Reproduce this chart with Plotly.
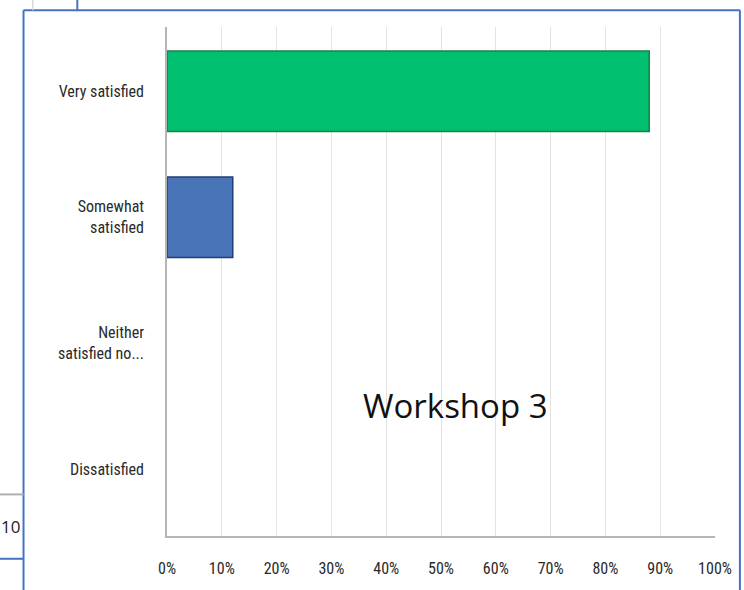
import plotly.graph_objects as go

categories = ["Very satisfied", "Somewhat<br>satisfied", "Neither<br>satisfied no...", "Dissatisfied"]
values = [0.88, 0.12, 0.0, 0.0]
bar_colors = ["#00bf6f", "#4a74b8", "#4a74b8", "#4a74b8"]
edge_colors = ["#1b7f4c", "#1f3f78", "#1f3f78", "#1f3f78"]
x_ticks = [i / 10 for i in range(11)]
x_labels = [f"{i*10}%" for i in range(11)]

W, H = 744, 590
L, R, T, B = 166.7, 716.7, 27.0, 541.0

def px(x):
    return (x - L) / (R - L)

def py(y):
    return (B - y) / (B - T)

edge_widths = [1.5 if v > 0 else 0 for v in values]

fig = go.Figure(go.Bar(
    y=categories, x=values, orientation="h", width=0.64,
    marker=dict(color=bar_colors, line=dict(color=edge_colors, width=edge_widths)),
    hoverinfo="skip",
))

label_font = dict(family="Liberation Sans Narrow, Roboto Condensed, Arial Narrow, Roboto, sans-serif", size=16, color="#2a2a2a")

fig.update_layout(
    width=W, height=H,
    margin=dict(l=L, r=W - R, t=T, b=H - B, pad=0),
    paper_bgcolor="white", plot_bgcolor="white",
    showlegend=False,
    xaxis=dict(range=[0, 1.0], tickvals=x_ticks, ticktext=x_labels,
               showgrid=True, gridcolor="#e3e3e3", gridwidth=1,
               showline=True, linecolor="#b5b5b5", linewidth=2,
               zeroline=False, ticks="", tickfont=label_font, ticklabelstandoff=17),
    yaxis=dict(categoryorder="array", categoryarray=categories,
               range=[3.53, -0.51],
               showgrid=False, showline=True, linecolor="#b5b5b5", linewidth=1.5,
               zeroline=False, ticks="", tickfont=label_font, ticklabelstandoff=18),
)

def line(x0, y0, x1, y1, color, width=2):
    fig.add_shape(type="line", xref="paper", yref="paper",
                  x0=px(x0), y0=py(y0), x1=px(x1), y1=py(y1),
                  line=dict(color=color, width=width))

blue = "#4472c4"
line(22.7, 10, 741.7, 10, blue)
line(22.7, 10, 22.7, 600, blue)
line(741.7, 10, 741.7, 600, blue)
line(76.7, -5, 76.7, 10, blue)
line(32, -5, 32, 10, "#d8d8d8", 1.5)
line(-5, 499, 22.7, 499, "#b0b0b0", 2)
line(-5, 564, 22.7, 564, blue)

fig.add_annotation(text="10", xref="paper", yref="paper", x=px(21.5), y=py(531),
                   xanchor="right", yanchor="middle", showarrow=False,
                   font=dict(family="Liberation Sans Narrow, Open Sans, sans-serif", size=17, color="#222222"))

fig.add_annotation(text="Workshop 3", xref="paper", yref="paper", x=px(456), y=py(409),
                   xanchor="center", yanchor="middle", showarrow=False,
                   font=dict(family="Open Sans, sans-serif", size=33, color="#111111"))

fig.write_html("out.html")
